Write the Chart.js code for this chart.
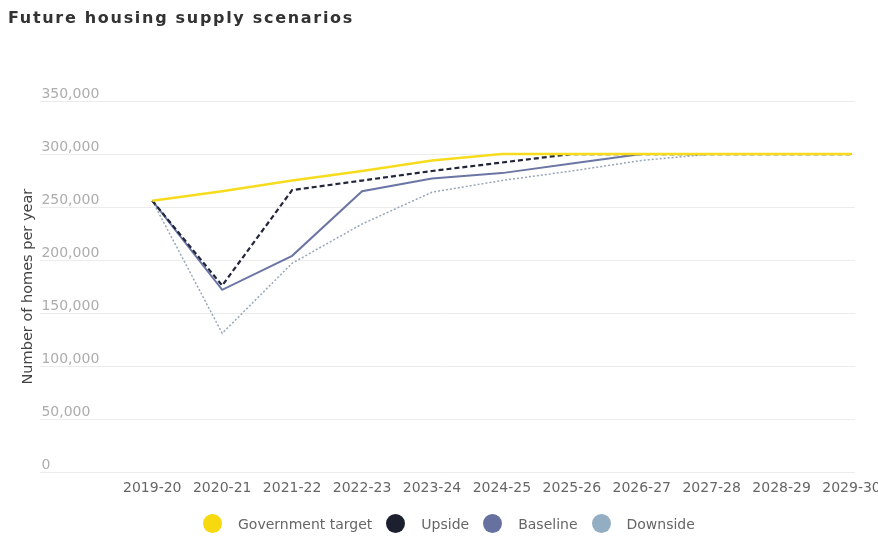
<!DOCTYPE html>
<html>
<head>
<meta charset="utf-8">
<script src="https://cdn.jsdelivr.net/npm/chart.js@4"></script>
<style>
  body { margin: 0; background: #fff; overflow: hidden; }
  #wrap { position: relative; width: 900px; height: 536px; }
  #title {
    position: absolute; left: 8px; top: 8px;
    font: bold 16px "DejaVu Sans", sans-serif; letter-spacing: 1.7px;
    color: #333; line-height: 20px;
  }
  #legend {
    position: absolute; left: 203px; top: 514px;
    display: flex; align-items: center;
    font: 14px "DejaVu Sans", sans-serif; color: #666;
  }
  #legend .item { display: flex; align-items: center; margin-right: 14px; }
  #legend .dot { width: 19px; height: 19px; border-radius: 50%; margin-right: 16px; }
</style>
</head>
<body>
<div id="wrap">
  <canvas id="supplyChart" width="900" height="536"></canvas>
  <div id="title">Future housing supply scenarios</div>
  <div id="legend"></div>
</div>
<script>
const years = [
    "2019-20", "2020-21", "2021-22", "2022-23", "2023-24", "2024-25",
    "2025-26", "2026-27", "2027-28", "2028-29", "2029-30"
];

const governmentTarget = [256000, 265000, 275000, 284000, 294000, 300000, 300000, 300000, 300000, 300000, 300000];
const upside           = [256000, 176000, 266000, 275000, 284000, 292000, 300000, 300000, 300000, 300000, 300000];
const baseline         = [256000, 172000, 204000, 265000, 277000, 282000, 291000, 300000, 300000, 300000, 300000];
const downside         = [256000, 131000, 197000, 234000, 264000, 275000, 284000, 294000, 300000, 300000, 300000];

const yTicks = [0, 50000, 100000, 150000, 200000, 250000, 300000, 350000];

const seriesNames = ["Government target", "Upside", "Baseline", "Downside"];
const legendColors = ["#f6d90f", "#1c1f2e", "#6671a0", "#93adc2"];

const toPoints = values => values.map((v, i) => ({ x: i, y: v }));

new Chart(
document.getElementById("supplyChart"),
{
    type: "line",
    data: {
        datasets: [
            {
                label: seriesNames[0],
                data: toPoints(governmentTarget),
                borderColor: "#f7dc1e",
                borderWidth: 2.5
            },
            {
                label: seriesNames[1],
                data: toPoints(upside),
                borderColor: "#23263a",
                borderWidth: 2.2,
                borderDash: [5, 3]
            },
            {
                label: seriesNames[2],
                data: toPoints(baseline),
                borderColor: "#6b76a4",
                borderWidth: 2
            },
            {
                label: seriesNames[3],
                data: toPoints(downside),
                borderColor: "#98a6b8",
                borderWidth: 1.5,
                borderDash: [2, 2]
            }
        ]
    },
    options: {
        responsive: false,
        animation: false,
        layout: { padding: { left: 20, right: 45, top: 101, bottom: 31 } },
        elements: {
            point: { radius: 0 },
            line: { tension: 0, fill: false }
        },
        plugins: {
            legend: { display: false },
            tooltip: { enabled: false }
        },
        scales: {
            x: {
                type: "linear",
                min: -1.6,
                max: 10.05,
                afterBuildTicks: scale => {
                    scale.ticks = years.map((_, i) => ({ value: i }));
                },
                grid: { display: false, drawTicks: false },
                border: { display: false },
                ticks: {
                    autoSkip: false,
                    maxRotation: 0,
                    padding: 8,
                    color: "#666",
                    font: { family: "DejaVu Sans", size: 14 },
                    callback: value => years[value] ?? ""
                }
            },
            y: {
                min: 0,
                max: 350000,
                afterBuildTicks: scale => {
                    scale.ticks = yTicks.map(v => ({ value: v }));
                },
                grid: { color: "#ececec", drawTicks: false },
                border: { display: false },
                ticks: {
                    mirror: true,
                    padding: 1,
                    labelOffset: -7,
                    color: "#adadad",
                    font: { family: "DejaVu Sans", size: 14 },
                    callback: value => value.toLocaleString("en-GB")
                },
                title: {
                    display: true,
                    text: "Number of homes per year",
                    color: "#444",
                    padding: { top: 0, bottom: 1 },
                    font: { family: "DejaVu Sans", size: 14.5 }
                }
            }
        }
    }
}
);

const legend = document.getElementById("legend");
seriesNames.forEach((name, i) => {
    const item = document.createElement("div");
    item.className = "item";
    const dot = document.createElement("span");
    dot.className = "dot";
    dot.style.background = legendColors[i];
    const text = document.createElement("span");
    text.textContent = name;
    item.appendChild(dot);
    item.appendChild(text);
    legend.appendChild(item);
});
</script>
</body>
</html>
